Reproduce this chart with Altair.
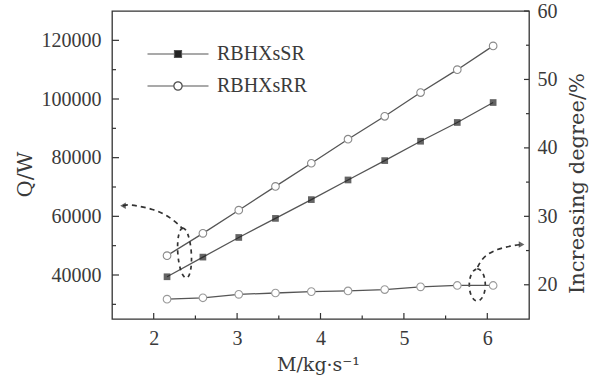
import altair as alt
import pandas as pd

# ---------------- data ----------------
M = [2.16, 2.59, 3.02, 3.46, 3.89, 4.33, 4.77, 5.20, 5.64, 6.07]
Q_SR = [39400, 46100, 52800, 59300, 65700, 72400, 79000, 85600, 92000, 98800]
Q_RR = [46600, 54200, 62100, 70200, 78100, 86300, 94100, 102200, 110000, 118100]
INC = [17.9, 18.1, 18.6, 18.8, 19.0, 19.1, 19.3, 19.7, 19.9, 19.9]
SERIES = ["RBHXsSR", "RBHXsRR"]

X_LABELS = [2, 3, 4, 5, 6]
X_MINOR = [2.5, 3.5, 4.5, 5.5]
Q_LABELS = [40000, 60000, 80000, 100000, 120000]
Q_MINOR = [30000, 50000, 70000, 90000, 110000]
R_LABELS = [20, 30, 40, 50, 60]
R_MINOR = [25, 35, 45, 55]

# dashed annotation arrows (in M / Q data units)
ARROW_L_M = [1.632, 1.70, 2.00, 2.20, 2.35]
ARROW_L_Q = [63600, 64200, 62500, 59800, 55700]
ELL_L_M, ELL_L_Q = [2.37], [47500]
ARROW_R_M = [5.884, 5.956, 6.123, 6.279, 6.411]
ARROW_R_Q = [42700, 46500, 48900, 49900, 50400]
ELL_R_M, ELL_R_Q = [5.88], [36600]

# ---------------- style ----------------
W, H = 417, 308
LAB_FONT = "Liberation Serif"
TIT_FONT = "DejaVu Serif"
TXT = "#3a3a3a"
LINE = "#555555"

xscale = alt.Scale(domain=[1.5, 6.5], nice=False, zero=False)
lscale = alt.Scale(domain=[25000, 130000], nice=False, zero=False)
rscale = alt.Scale(domain=[15, 60], nice=False, zero=False)

common_axis = dict(ticks=False, domain=False, grid=False,
                   labelFont=LAB_FONT, labelFontSize=20, labelColor=TXT,
                   titleFont=TIT_FONT, titleFontWeight="normal", titleColor=TXT)

x_axis = alt.Axis(orient="bottom", values=X_LABELS, labelPadding=9, title="M/kg·s⁻¹",
                  titleFontSize=19, titleX=206, titleY=51, titleAlign="center",
                  titleBaseline="alphabetic", **common_axis)
l_axis = alt.Axis(orient="left", values=Q_LABELS, format="d", labelPadding=11, title="Q/W",
                  titleFontSize=21, titleAngle=270, titleX=-87, titleY=163,
                  titleAlign="center", titleBaseline="middle", **common_axis)
r_axis = alt.Axis(orient="right", values=R_LABELS, format="d", labelPadding=8,
                  title="Increasing degree/%", titleFontSize=21, titleAngle=270,
                  titleX=48, titleY=172, titleAlign="center", titleBaseline="middle",
                  **common_axis)

main = pd.DataFrame({
    "M": M + M,
    "Q": Q_SR + Q_RR,
    "series": [SERIES[0]] * len(M) + [SERIES[1]] * len(M),
})
inc_df = pd.DataFrame({"M": M, "P": INC})

X_NOAXIS = alt.X("M:Q", scale=xscale, axis=None)
Y_NOAXIS = alt.Y("Q:Q", scale=lscale, axis=None)

lines = alt.Chart(main).mark_line(color=LINE, strokeWidth=1.3).encode(
    x=alt.X("M:Q", scale=xscale, axis=x_axis),
    y=alt.Y("Q:Q", scale=lscale, axis=l_axis),
    detail="series:N",
)
pts_sr = alt.Chart(main).transform_filter(
    alt.datum.series == SERIES[0]
).mark_point(shape="square", filled=True, size=45, color="#222222").encode(
    x=X_NOAXIS, y=Y_NOAXIS)
pts_rr = alt.Chart(main).transform_filter(
    alt.datum.series == SERIES[1]
).mark_point(shape="circle", filled=True, fill="white", stroke="#8a8a8a",
             strokeWidth=1.1, size=58, opacity=1).encode(x=X_NOAXIS, y=Y_NOAXIS)

# inward ticks
def xticks(vals, length):
    return alt.Chart(pd.DataFrame({"M": vals})).mark_rule(
        color="#333333", strokeWidth=1.2).encode(
        x=X_NOAXIS, y=alt.value(H), y2=alt.value(H - length))

def lticks(vals, length):
    return alt.Chart(pd.DataFrame({"Q": vals})).mark_rule(
        color="#333333", strokeWidth=1.2).encode(
        y=Y_NOAXIS, x=alt.value(0), x2=alt.value(length))

def rticks(vals, length):
    return alt.Chart(pd.DataFrame({"P": vals})).mark_rule(
        color="#333333", strokeWidth=1.2).encode(
        y=alt.Y("P:Q", scale=rscale, axis=None), x=alt.value(W), x2=alt.value(W - length))

# annotations
def curve(ms, qs):
    df = pd.DataFrame({"M": ms, "Q": qs, "i": list(range(len(ms)))})
    return alt.Chart(df).mark_line(color="#333333", strokeWidth=1.7,
                                   strokeDash=[5, 4], interpolate="basis").encode(
        x=X_NOAXIS, y=Y_NOAXIS, order="i:Q")

def head(m, q, shape):
    return alt.Chart(pd.DataFrame({"M": [m], "Q": [q]})).mark_point(
        shape=shape, filled=True, color="#222222", size=42).encode(x=X_NOAXIS, y=Y_NOAXIS)

def ellipse(ms, qs, rx, size, angle):
    path = f"M0,-1A{rx},1,0,1,1,0,1A{rx},1,0,1,1,0,-1Z"
    return alt.Chart(pd.DataFrame({"M": ms, "Q": qs})).mark_point(
        shape=path, size=size, filled=False, stroke="#333333", strokeWidth=1.7,
        strokeDash=[4, 4], angle=angle, opacity=1).encode(x=X_NOAXIS, y=Y_NOAXIS)

# legend (line + marker symbols)
PATH_SR = ("M-3.05,0L-0.35,0M0.35,0L3.05,0"
           "M-0.35,-0.35L0.35,-0.35L0.35,0.35L-0.35,0.35Z")
PATH_RR = ("M-3.05,0L-0.42,0M0.42,0L3.05,0"
           "M0.42,0A0.42,0.42,0,1,1,-0.42,0A0.42,0.42,0,1,1,0.42,0Z"
           "M0.41,0A0.41,0.41,0,1,0,-0.41,0A0.41,0.41,0,1,0,0.41,0Z")
legend_layer = alt.Chart(pd.DataFrame({"series": SERIES})).transform_filter(
    "false"
).mark_point(filled=True, fill="#222222", stroke="#555555", strokeWidth=1.2,
             opacity=1).encode(
    shape=alt.Shape("series:N",
                    scale=alt.Scale(domain=SERIES, range=[PATH_SR, PATH_RR]),
                    legend=alt.Legend(orient="none", legendX=55, legendY=32,
                                      padding=0, title=None, symbolSize=400,
                                      labelOffset=28, rowPadding=11,
                                      labelFont=LAB_FONT, labelFontSize=20,
                                      labelColor=TXT, symbolStrokeWidth=1.2)),
)

inc_line = alt.Chart(inc_df).mark_line(color=LINE, strokeWidth=1.3).encode(
    x=X_NOAXIS, y=alt.Y("P:Q", scale=rscale, axis=r_axis))
inc_pts = alt.Chart(inc_df).mark_point(shape="circle", filled=True, fill="white",
                                       stroke="#9a9a9a", strokeWidth=1.1, size=58,
                                       opacity=1).encode(
    x=X_NOAXIS, y=alt.Y("P:Q", scale=rscale, axis=None))

chart = alt.layer(
    lines, pts_sr, pts_rr,
    xticks(X_LABELS, 6), xticks(X_MINOR, 3.5),
    lticks(Q_LABELS, 7), lticks(Q_MINOR, 4),
    curve(ARROW_L_M, ARROW_L_Q), curve(ARROW_R_M, ARROW_R_Q),
    head(ARROW_L_M[0], ARROW_L_Q[0], "triangle-left"),
    head(ARROW_R_M[-1], ARROW_R_Q[-1], "triangle-right"),
    ellipse(ELL_L_M, ELL_L_Q, 0.27, 2500, 356),
    ellipse(ELL_R_M, ELL_R_Q, 0.5, 1024, 0),
    legend_layer,
    inc_line, inc_pts, rticks(R_LABELS, 5), rticks(R_MINOR, 3),
).resolve_scale(y="independent").resolve_axis(x="independent", y="independent").properties(
    width=W, height=H,
    autosize=alt.AutoSizeParams(type="none"),
    padding={"left": 112, "top": 11, "right": 65, "bottom": 58},
    background="white",
).configure_view(stroke="#333333", strokeWidth=1.3)

chart.save("out.html", embed_options={"renderer": "svg", "actions": False})
